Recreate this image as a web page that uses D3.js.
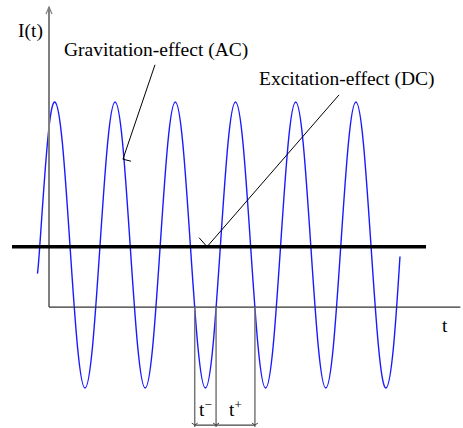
<!DOCTYPE html>
<html><head><meta charset="utf-8">
<script src="https://cdn.jsdelivr.net/npm/d3@7"></script>
<style>
body{margin:0;background:#fff}
svg{display:block}
text{font-family:"Liberation Serif","Times New Roman",serif;font-size:19.5px;fill:#000}
</style>
</head><body>
<svg id="c" width="463" height="428"></svg>
<script>
// time in quarter-period units, I(t) in AC-amplitude units
const sampleT = [-0.16, 0, 0.5, 1, 1.5, 2, 2.5, 3, 3.5, 4, 4.5, 5, 5.5, 6, 6.5, 7, 7.5, 8, 8.5, 9, 9.5, 10, 10.5, 11, 11.5,
  12, 12.5, 13, 13.5, 14, 14.5, 15, 15.5, 16, 16.5, 17, 17.5, 18, 18.5, 19, 19.5, 20, 20.5, 21, 21.5, 22, 22.5, 23, 23.5, 23.93];
const sampleI = [-0.2, 0, 0.71, 1, 0.71, 0, -0.71, -1, -0.71, 0, 0.71, 1, 0.71, 0, -0.71, -1, -0.71, 0, 0.71, 1, 0.71, 0, -0.71, -1, -0.71,
  0, 0.71, 1, 0.71, 0, -0.71, -1, -0.71, 0, 0.71, 1, 0.71, 0, -0.71, -1, -0.71, 0, 0.71, 1, 0.71, 0, -0.71, -1, -0.71, -0.08];
const dcLevel = -0.012;
const dcRange = [-1.85, 25.66];
const axisT = [0.608, 27.94];
const axisI = [-0.434, 1.664];
const intervalT = [10.29, 11.71, 14.29];
const intervalLabels = ["\u2212", "+"];
const labels = {yAxis: "I(t)", xAxis: "t", ac: "Gravitation-effect (AC)", dc: "Excitation-effect (DC)"};

const svg = d3.select("#c");
const x = d3.scaleLinear().domain([1, 21]).range([54.9, 355.9]);
const y = d3.scaleLinear().domain([-1, 1]).range([388, 102]);

// sine curve
const line = d3.line().x((d, i) => x(sampleT[i])).y((d, i) => y(sampleI[i])).curve(d3.curveNatural);
svg.append("path").datum(sampleT).attr("d", line)
  .attr("fill", "none").attr("stroke", "#1a1aff").attr("stroke-width", 1.4);

// y axis with arrow
const ax0 = x(axisT[0]), ay0 = y(axisI[0]), ayTop = y(axisI[1]);
svg.append("line").attr("x1", ax0).attr("x2", ax0).attr("y1", ay0).attr("y2", ayTop)
  .attr("stroke", "#7f7f7f").attr("stroke-width", 2);
svg.append("path").attr("d", `M${ax0-3},${ayTop+7}L${ax0},${ayTop}L${ax0+3},${ayTop+7}`)
  .attr("fill", "none").attr("stroke", "#7f7f7f").attr("stroke-width", 1.2);
// x axis
svg.append("line").attr("x1", ax0).attr("x2", x(axisT[1])).attr("y1", ay0).attr("y2", ay0)
  .attr("stroke", "#333").attr("stroke-width", 1.3);

// interval brackets
const yBot = y(-1.273), yBar = y(-1.259);
intervalT.forEach(t => {
  svg.append("line").attr("x1", x(t)).attr("x2", x(t)).attr("y1", ay0).attr("y2", yBot)
    .attr("stroke", "#777").attr("stroke-width", 1.5);
});
svg.append("line").attr("x1", x(intervalT[0])).attr("x2", x(intervalT[2])).attr("y1", yBar).attr("y2", yBar)
  .attr("stroke", "#444").attr("stroke-width", 1.2);
intervalT.forEach(t => {
  svg.append("path").attr("d", `M${x(t)-3},${yBar-2}L${x(t)},${yBar}L${x(t)+3},${yBar-2}`)
    .attr("fill", "none").attr("stroke", "#444").attr("stroke-width", 1);
});
intervalLabels.forEach((s, i) => {
  const cx = (x(intervalT[i]) + x(intervalT[i + 1])) / 2;
  const tx = svg.append("text").attr("x", cx).attr("y", y(-1.196)).attr("text-anchor", "middle");
  tx.append("tspan").text("t");
  tx.append("tspan").attr("dy", -7).attr("font-size", "13px").text(s);
});

// DC line
svg.append("line").attr("x1", x(dcRange[0])).attr("x2", x(dcRange[1])).attr("y1", y(dcLevel)).attr("y2", y(dcLevel))
  .attr("stroke", "#000").attr("stroke-width", 3.5);

// leaders
const g1 = [x(7.65), y(1.26)], g2 = [x(5.52), y(0.60)];
svg.append("path").attr("d", `M${g1}L${g2}L${g2[0]+8},${g2[1]+2}`)
  .attr("fill", "none").attr("stroke", "#000").attr("stroke-width", 1);
const e1 = [x(19.88), y(1.05)], e2 = [x(11.11), y(dcLevel)];
svg.append("path").attr("d", `M${e1}L${e2}L${e2[0]-8},${e2[1]-9}`)
  .attr("fill", "none").attr("stroke", "#000").attr("stroke-width", 1);

// texts
svg.append("text").attr("x", 18).attr("y", 37).text(labels.yAxis);
svg.append("text").attr("x", 64).attr("y", 56).text(labels.ac);
svg.append("text").attr("x", 259).attr("y", 85).text(labels.dc);
svg.append("text").attr("x", 442).attr("y", 332).text(labels.xAxis);
</script>
</body></html>
